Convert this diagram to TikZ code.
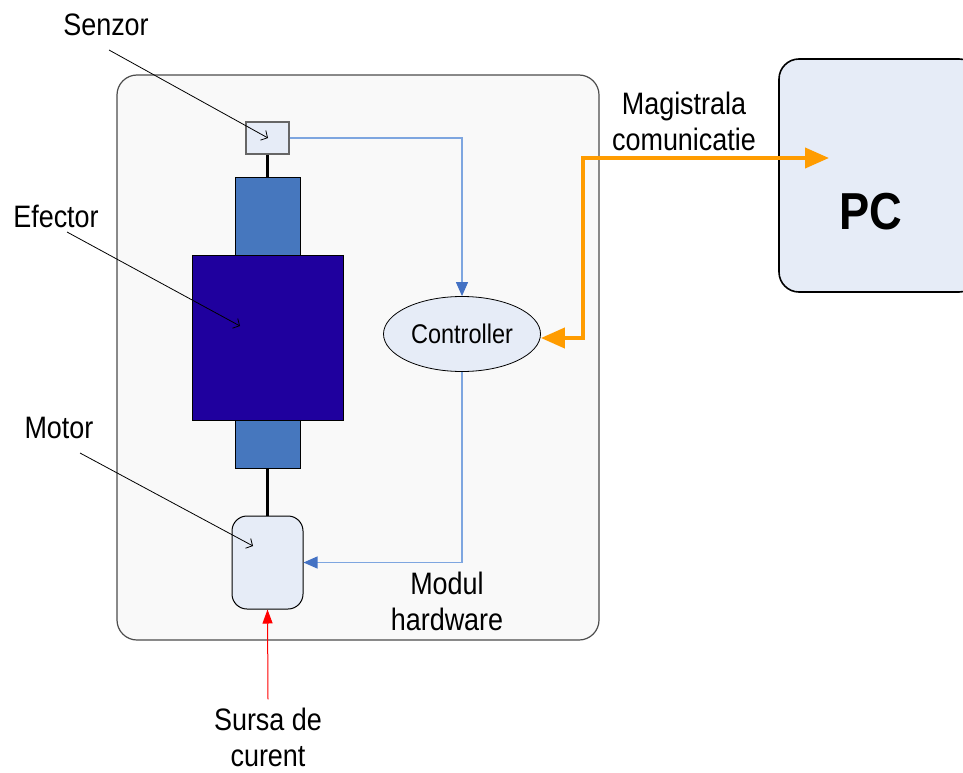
\documentclass[tikz,border=0pt]{standalone}
\usepackage{fontspec}
\setmainfont[FakeStretch=0.87]{Liberation Sans}
\usepackage{xcolor}
\usetikzlibrary{positioning,shapes,arrows.meta}

\definecolor{modulgray}{HTML}{F9F9F9}
\definecolor{paleblue}{HTML}{E6ECF7}
\definecolor{shaftblue}{HTML}{4677BE}
\definecolor{efectorblue}{HTML}{1F009E}
\definecolor{linkblue}{HTML}{7EA6E0}
\definecolor{tipblue}{HTML}{4472C4}
\definecolor{busorange}{HTML}{FF9C00}

\begin{document}
\begin{tikzpicture}[x=1pt,y=-1pt]
	\tikzstyle{label_style} = [align=center,inner sep=1pt,font=\fontsize{31}{36}\selectfont]
	\tikzstyle{part_style} = [rectangle,draw=black,inner sep=0pt]
	\tikzstyle{callout_style} = [draw=black,line width=0.8pt,-{Straight Barb[length=5pt,width=11pt]}]
	\tikzstyle{link_style} = [draw=linkblue,line width=1.2pt,-{Triangle[length=14pt,width=12pt,color=tipblue]}]
	\tikzstyle{bus_style} = [draw=busorange,line width=4pt,{Triangle[length=24pt,width=20pt]}-{Triangle[length=24pt,width=20pt]}]
	\tikzstyle{rod_style} = [draw=black,line width=2.6pt]
	    \useasboundingbox (0,0) rectangle (963,773);
	    % module
	    \node[part_style,draw=black!70,line width=1.2pt,fill=modulgray,rounded corners=20pt,minimum width=482pt,minimum height=565pt] (modul) at (358,357.5) {};
	    \node[part_style,draw=black!60,line width=1.2pt,fill=paleblue,minimum width=43pt,minimum height=32pt] (senzor) at (267.5,138) {};
	    \node[part_style,fill=shaftblue,line width=0.8pt,minimum width=65pt,minimum height=78pt] (shafttop) at (267.5,216) {};
	    \node[part_style,fill=efectorblue,line width=0.8pt,minimum width=151pt,minimum height=165pt] (efector) at (267.5,337.5) {};
	    \node[part_style,fill=shaftblue,line width=0.8pt,minimum width=65pt,minimum height=48pt] (shaftbot) at (267.5,444) {};
	    \node[part_style,fill=paleblue,line width=1pt,rounded corners=15pt,minimum width=71pt,minimum height=93pt] (motor) at (267.5,562.5) {};
	    \node[ellipse,draw=black,fill=paleblue,line width=0.8pt,minimum width=157pt,minimum height=75pt,inner sep=0pt,font=\fontsize{27}{32}\selectfont] (controller) at (462,334) {Controller};
	    % pc
	    \node[part_style,fill=paleblue,line width=1.6pt,rounded corners=20pt,minimum width=200pt,minimum height=233pt] (pc) at (879,175.5) {};
	    \node[inner sep=0pt,font=\bfseries\fontsize{52}{60}\selectfont] (pctext) at (871,212) {PC};
	    % labels
	    \node[label_style] (lblsenzor) at (106,25) {Senzor};
	    \node[label_style] (lblefector) at (56,216) {Efector};
	    \node[label_style] (lblmotor) at (59,428) {Motor};
	    \node[label_style] (lblbus) at (684,121) {Magistrala\\comunicatie};
	    \node[label_style] (lblmodul) at (447,601) {Modul\\hardware};
	    \node[label_style,inner sep=0pt] (lblsursa) at (268,737) {Sursa de\\curent};
	    \coordinate (senzorfrom) at (109,50);
	    \coordinate (senzorto) at (268,138);
	    \coordinate (efectorfrom) at (67,232);
	    \coordinate (efectorto) at (240,326);
	    \coordinate (motorfrom) at (80,453);
	    \coordinate (motorto) at (253,546);
	    \coordinate (busknee) at (583,158);
	    \coordinate (pcin) at (829,158);
	    % connectors
	    \draw[rod_style] (senzor) edge (shafttop);
	    \draw[rod_style] (shaftbot) edge (motor);
	    \draw[link_style] (senzor.east) -| (controller.north);
	    \draw[link_style] (controller.south) |- (motor.east);
	    \draw[bus_style] ([yshift=-4pt]controller.east) -| (busknee) -- (pcin);
	    \draw[draw=red,line width=1pt,-{Triangle[length=14pt,width=10pt]}] ([yshift=8pt]lblsursa.north) -- (motor.south);
	    \draw[callout_style] (senzorfrom) -- (senzorto);
	    \draw[callout_style] (efectorfrom) -- (efectorto);
	    \draw[callout_style] (motorfrom) -- (motorto);
\end{tikzpicture}
\end{document}
